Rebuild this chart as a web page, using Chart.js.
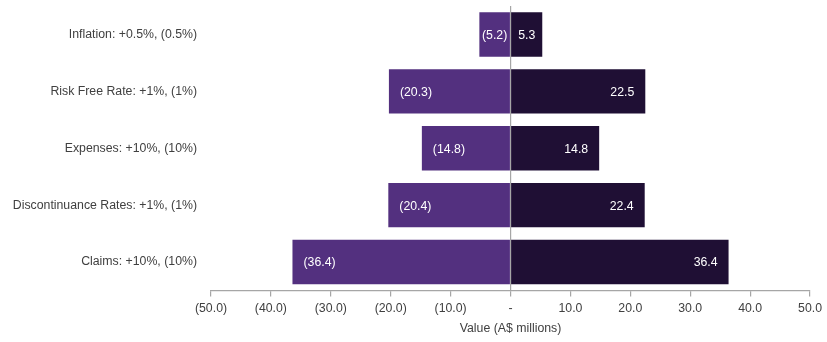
<!DOCTYPE html>
<html>
<head>
<meta charset="utf-8">
<script src="https://cdn.jsdelivr.net/npm/chart.js@4"></script>
<style>
  html, body { margin: 0; padding: 0; background: #fff; }
  #wrap { width: 827px; height: 342px; position: relative; }
</style>
</head>
<body>
<div id="wrap"><canvas id="tornado"></canvas></div>
<script>
const categories = [
  "Inflation: +0.5%, (0.5%)",
  "Risk Free Rate: +1%, (1%)",
  "Expenses: +10%, (10%)",
  "Discontinuance Rates: +1%, (1%)",
  "Claims: +10%, (10%)"
];
const downValues = [-5.2, -20.3, -14.8, -20.4, -36.4];
const upValues = [5.3, 22.5, 14.8, 22.4, 36.4];
const xTicks = [-50, -40, -30, -20, -10, 0, 10, 20, 30, 40, 50];

const FONT = "'Liberation Sans', Arial, sans-serif";
const SIZE = 12.3;
const fmt = v => v === 0 ? "-" : v < 0 ? `(${Math.abs(v).toFixed(1)})` : v.toFixed(1);

// draw the white value labels inside each bar
const barLabels = {
  id: "barLabels",
  afterDatasetsDraw(chart) {
    const ctx = chart.ctx;
    ctx.save();
    ctx.font = `${SIZE}px ${FONT}`;
    ctx.fillStyle = "#ffffff";
    ctx.textBaseline = "middle";
    chart.data.datasets.forEach((ds, di) => {
      const meta = chart.getDatasetMeta(di);
      meta.data.forEach((bar, i) => {
        const v = ds.data[i];
        const text = fmt(v);
        const w = ctx.measureText(text).width;
        const left = Math.min(bar.x, bar.base);
        const right = Math.max(bar.x, bar.base);
        const pad = 11;
        let tx;
        if (right - left < w + 2 * pad) {
          tx = (left + right) / 2 - w / 2;
        } else if (v < 0) {
          tx = left + pad;
        } else {
          tx = right - pad - w;
        }
        ctx.textAlign = "left";
        ctx.fillText(text, tx, bar.y + 1);
      });
    });
    ctx.restore();
  }
};

new Chart(document.getElementById("tornado"), {
  type: "bar",
  data: {
    labels: categories,
    datasets: [
      { label: "Down", data: downValues, backgroundColor: "#53307f" },
      { label: "Up", data: upValues, backgroundColor: "#1f0f34" }
    ]
  },
  options: {
    indexAxis: "y",
    responsive: true,
    maintainAspectRatio: false,
    animation: false,
    layout: { padding: { left: 0, right: 15, top: 6, bottom: 6 } },
    datasets: { bar: { barPercentage: 0.78, categoryPercentage: 1 } },
    plugins: {
      legend: { display: false },
      tooltip: { enabled: false }
    },
    scales: {
      x: {
        stacked: true,
        min: -50,
        max: 50,
        z: 1,
        afterBuildTicks: scale => { scale.ticks = xTicks.map(v => ({ value: v })); },
        grid: {
          color: c => (c.tick && c.tick.value === 0 ? "#a6a6a6" : "rgba(0,0,0,0)"),
          tickColor: "#a6a6a6",
          tickLength: 6,
          lineWidth: 1.2
        },
        border: { display: true, color: "#a6a6a6", width: 1.2 },
        ticks: {
          color: "#404040",
          font: { family: FONT, size: SIZE },
          padding: 5,
          maxRotation: 0,
          autoSkip: false,
          callback: v => fmt(v)
        },
        title: {
          display: true,
          text: "Value (A$ millions)",
          color: "#404040",
          font: { family: FONT, size: SIZE },
          padding: { top: 0, bottom: 0 }
        }
      },
      y: {
        stacked: true,
        grid: { display: false, drawTicks: true, tickLength: 16 },
        border: { display: false },
        afterFit: scale => { scale.width = 211; },
        ticks: {
          color: "#404040",
          font: { family: FONT, size: SIZE },
          padding: -2
        }
      }
    }
  },
  plugins: [barLabels]
});
</script>
</body>
</html>
